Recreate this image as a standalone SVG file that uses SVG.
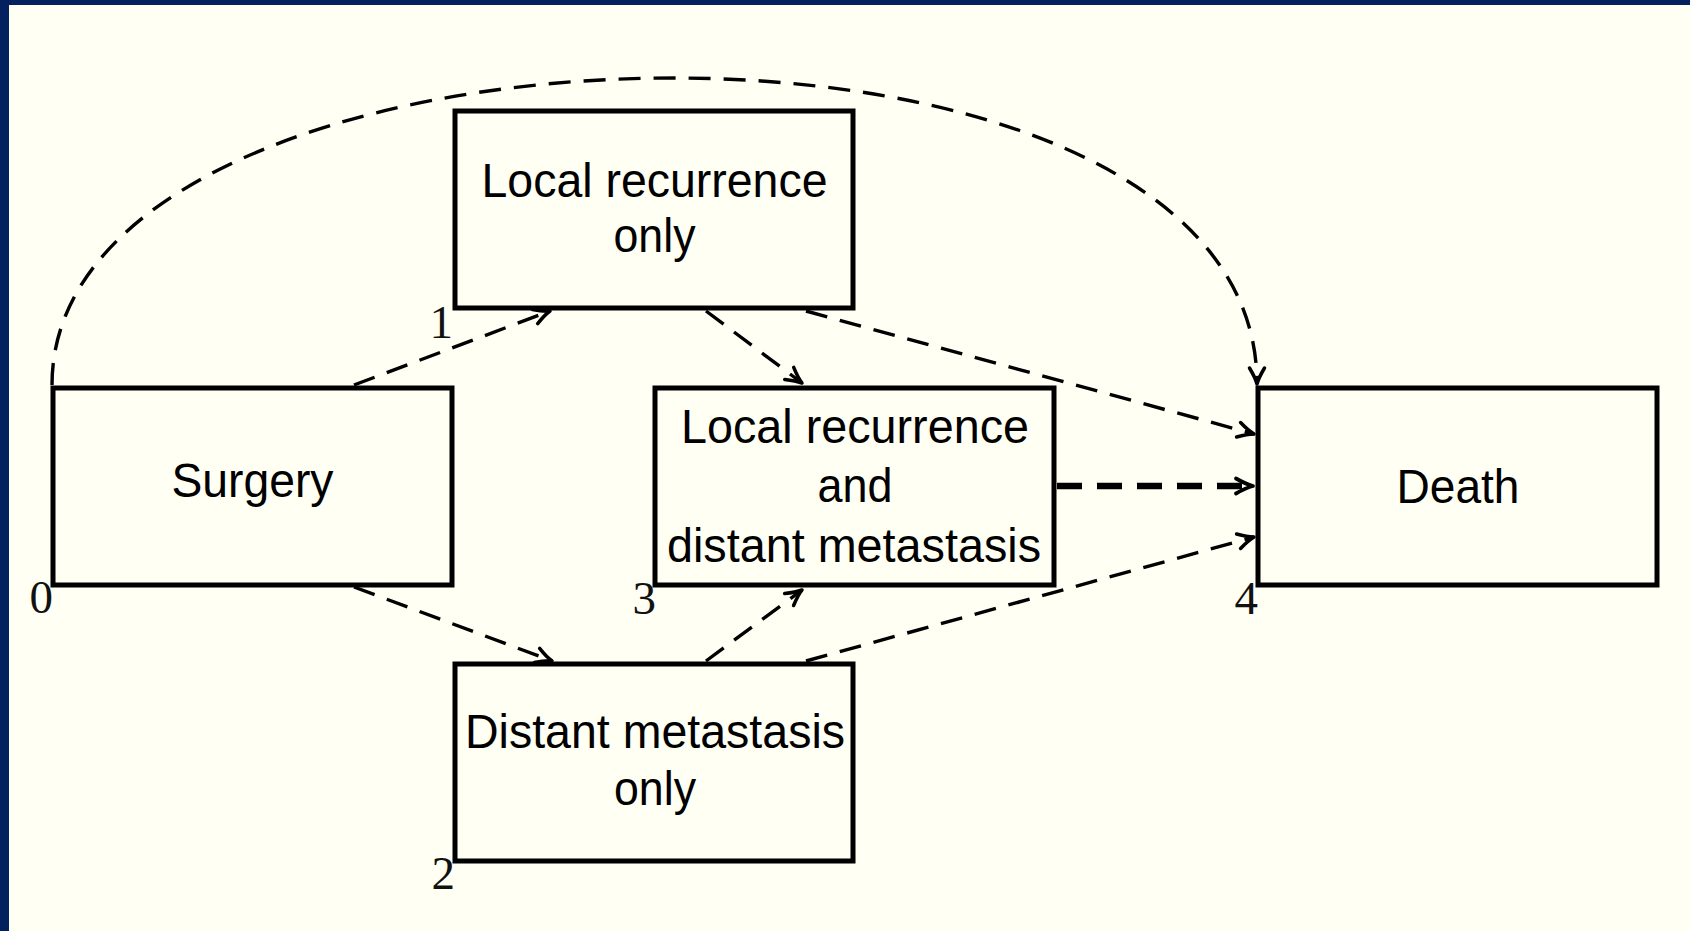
<svg xmlns="http://www.w3.org/2000/svg" width="1690" height="931" viewBox="0 0 1690 931">
  <style>
    .box { fill: none; stroke: #000; stroke-width: 5; }
    .lbl { font-family: "Liberation Sans", Arial, Helvetica, sans-serif; font-size: 49px; fill: #000; text-anchor: middle; }
    .num { font-family: "Liberation Serif", "Times New Roman", serif; font-size: 47px; fill: #111; text-anchor: end; }
    .edge { fill: none; stroke: #000; stroke-width: 3.4; stroke-dasharray: 22 13; }
    .edge-thick { fill: none; stroke: #000; stroke-width: 6.5; stroke-dasharray: 25 15; }
  </style>
  <defs>
    <marker id="tip" markerUnits="userSpaceOnUse" viewBox="-19 -10 21 20" markerWidth="21" markerHeight="20" refX="0" refY="0" orient="auto" overflow="visible">
      <path d="M-16,-7.5 Q-6.5,-1.8 0,0 Q-6.5,1.8 -16,7.5" fill="none" stroke="#000" stroke-width="3.5" stroke-linecap="round" stroke-linejoin="round"/>
    </marker>
    <marker id="tip-thick" markerUnits="userSpaceOnUse" viewBox="-19 -10 21 20" markerWidth="21" markerHeight="20" refX="0" refY="0" orient="auto" overflow="visible">
      <path d="M-17,-7.5 Q-7,-1.8 0,0 Q-7,1.8 -17,7.5" fill="none" stroke="#000" stroke-width="3.8" stroke-linecap="round" stroke-linejoin="round"/>
    </marker>
  </defs>

  <!-- frame and page -->
  <rect x="0" y="0" width="1690" height="931" fill="#03205f"/>
  <rect x="9" y="5" width="1681" height="926" fill="#fffff4"/>

  <!-- transitions -->
  <g id="connectors">
    <!-- 0 -> 4, long arc over the top -->
    <path class="edge" d="M52,385 C52,-8 1257,-40 1257,384" marker-end="url(#tip)"/>
    <!-- 0 -> 1 -->
    <path class="edge" d="M354,385 L550,311" marker-end="url(#tip)"/>
    <!-- 0 -> 2 -->
    <path class="edge" d="M354,587 L552,661" marker-end="url(#tip)"/>
    <!-- 1 -> 3 -->
    <path class="edge" d="M706,311 L802,383" marker-end="url(#tip)"/>
    <!-- 2 -> 3 -->
    <path class="edge" d="M706,661 L802,590" marker-end="url(#tip)"/>
    <!-- 1 -> 4 -->
    <path class="edge" d="M806,311 L1254,434" marker-end="url(#tip)"/>
    <!-- 2 -> 4 -->
    <path class="edge" d="M806,661 L1254,537" marker-end="url(#tip)"/>
    <!-- 3 -> 4 -->
    <path class="edge-thick" d="M1057,486 L1253,486" marker-end="url(#tip-thick)"/>
  </g>

  <!-- state 0 -->
  <g id="node-surgery">
    <rect class="box" x="53" y="388" width="399" height="197"/>
    <text class="lbl" x="252.5" y="497" textLength="162" lengthAdjust="spacingAndGlyphs">Surgery</text>
    <text class="num" x="53" y="613">0</text>
  </g>

  <!-- state 1 -->
  <g id="node-local">
    <rect class="box" x="455" y="111" width="398" height="197"/>
    <text class="lbl" x="654.5" y="197" textLength="346" lengthAdjust="spacingAndGlyphs">Local recurrence</text>
    <text class="lbl" x="654.5" y="252" textLength="82" lengthAdjust="spacingAndGlyphs">only</text>
    <text class="num" x="453" y="338">1</text>
  </g>

  <!-- state 2 -->
  <g id="node-distant">
    <rect class="box" x="455" y="664" width="398" height="197"/>
    <text class="lbl" x="655" y="748" textLength="380" lengthAdjust="spacingAndGlyphs">Distant metastasis</text>
    <text class="lbl" x="655" y="805" textLength="82" lengthAdjust="spacingAndGlyphs">only</text>
    <text class="num" x="455" y="889">2</text>
  </g>

  <!-- state 3 -->
  <g id="node-both">
    <rect class="box" x="655" y="388" width="399" height="197"/>
    <text class="lbl" x="855" y="443" textLength="348" lengthAdjust="spacingAndGlyphs">Local recurrence</text>
    <text class="lbl" x="855" y="502" textLength="75" lengthAdjust="spacingAndGlyphs">and</text>
    <text class="lbl" x="854" y="562" textLength="374" lengthAdjust="spacingAndGlyphs">distant metastasis</text>
    <text class="num" x="656" y="614">3</text>
  </g>

  <!-- state 4 -->
  <g id="node-death">
    <rect class="box" x="1258" y="388" width="399" height="197"/>
    <text class="lbl" x="1458" y="503" textLength="123" lengthAdjust="spacingAndGlyphs">Death</text>
    <text class="num" x="1258" y="614">4</text>
  </g>
</svg>
